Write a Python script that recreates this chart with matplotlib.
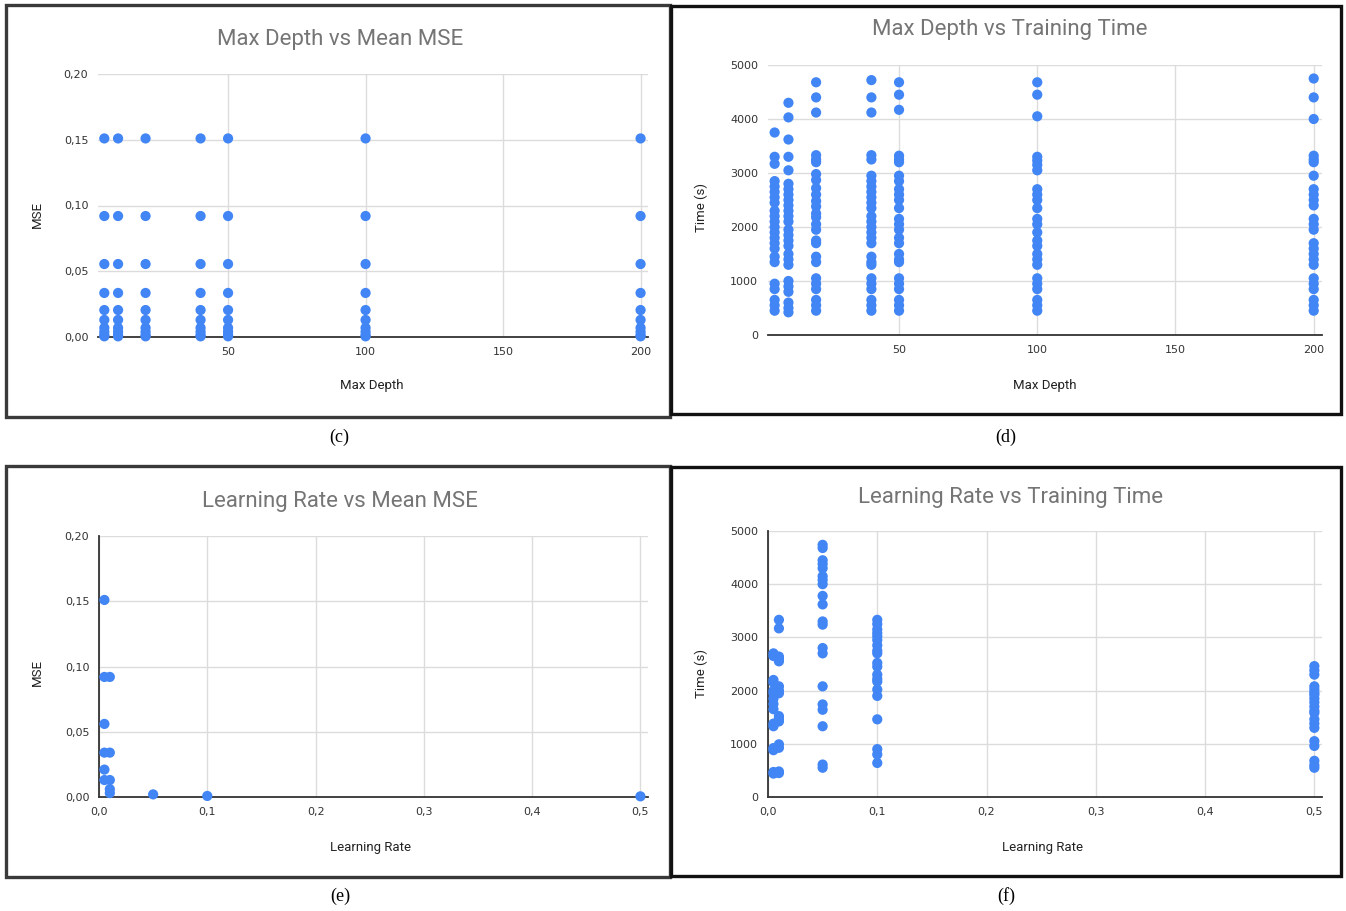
import matplotlib
matplotlib.use("Agg")
import matplotlib.pyplot as plt
from matplotlib.patches import Rectangle
from matplotlib.ticker import FuncFormatter

W, H = 1346, 911
BLUE = '#4285F4'
GRID = '#dcdcdc'

# ---- data ----
depths = [5, 10, 20, 40, 50, 100, 200]
mse_levels = [0.151, 0.092, 0.0555, 0.0335, 0.0205, 0.013, 0.007, 0.004, 0.0015, 0.0005]

time_d5 = [3750, 3300, 3170, 2850, 2750, 2650, 2550, 2450, 2300, 2200, 2100, 2000,
           1900, 1800, 1700, 1600, 1450, 1350, 950, 850, 650, 550, 450]
time_d10 = [4300, 4030, 3620, 3300, 3050, 2800, 2700, 2600, 2500, 2400, 2300, 2200,
            2100, 1950, 1850, 1750, 1650, 1500, 1400, 1300, 1000, 900, 800, 600, 500, 420]
time_d20 = [4680, 4400, 4120, 3330, 3250, 3200, 2980, 2870, 2720, 2600, 2480, 2380,
            2250, 2180, 2050, 1950, 1750, 1700, 1450, 1350, 1050, 950, 850, 650, 550, 450]
time_d40 = [4720, 4400, 4120, 3330, 3250, 2950, 2850, 2750, 2650, 2550, 2450, 2350,
            2200, 2100, 2000, 1900, 1800, 1700, 1450, 1350, 1300, 1050, 950, 850, 650, 550, 450]
time_d50 = [4680, 4450, 4170, 3320, 3250, 3200, 2950, 2850, 2700, 2600, 2500, 2350,
            2150, 2050, 1950, 1800, 1700, 1500, 1400, 1350, 1050, 950, 850, 650, 550, 450]
time_d100 = [4680, 4450, 4050, 3300, 3230, 3150, 3050, 2700, 2600, 2500, 2350, 2150,
             2050, 1900, 1750, 1650, 1500, 1400, 1300, 1050, 950, 850, 650, 550, 450]
time_d200 = [4750, 4400, 4000, 3320, 3250, 3200, 2950, 2700, 2600, 2500, 2400, 2150,
             2050, 1950, 1700, 1600, 1500, 1400, 1300, 1050, 950, 850, 650, 550, 450]
depth_times = [time_d5, time_d10, time_d20, time_d40, time_d50, time_d100, time_d200]

lr_mse_x = [0.005, 0.005, 0.01, 0.005, 0.005, 0.01, 0.005, 0.005, 0.01, 0.01, 0.01, 0.05, 0.1, 0.5]
lr_mse_y = [0.151, 0.092, 0.092, 0.056, 0.034, 0.034, 0.021, 0.013, 0.013, 0.006, 0.003, 0.002, 0.0008, 0.0005]

rates = [0.005, 0.01, 0.05, 0.1, 0.5]
time_lr0005 = [2700, 2650, 2200, 2150, 2000, 1950, 1850, 1750, 1650, 1380, 1330, 920, 880, 470, 440]
time_lr001 = [3330, 3170, 2640, 2600, 2550, 2080, 2000, 1950, 1520, 1470, 1420, 990, 925, 480, 450]
time_lr005 = [4740, 4680, 4450, 4380, 4300, 4150, 4080, 4000, 3780, 3620, 3300, 3240,
              2800, 2700, 2080, 1740, 1640, 1330, 610, 550]
time_lr01 = [3330, 3250, 3150, 3080, 3020, 2950, 2850, 2750, 2700, 2520, 2450, 2300,
             2220, 2170, 2020, 1900, 1460, 900, 800, 640]
time_lr05 = [2460, 2380, 2300, 2080, 2020, 1960, 1920, 1850, 1780, 1700, 1620, 1580,
             1460, 1380, 1300, 1050, 960, 680, 600, 550]
rate_times = [time_lr0005, time_lr001, time_lr005, time_lr01, time_lr05]


def fx(px):
    return px / W


def fy(py):
    return 1 - py / H


def comma(fmt):
    return FuncFormatter(lambda v, p: (fmt % v).replace('.', ','))


def make_axes(fig, left, right, top, bottom):
    ax = fig.add_axes([fx(left), fy(bottom), fx(right) - fx(left), fy(top) - fy(bottom)])
    for s in ['top', 'right', 'left']:
        ax.spines[s].set_visible(False)
    ax.spines['bottom'].set_color('#333333')
    ax.spines['bottom'].set_linewidth(1.3)
    ax.grid(True, color=GRID, linewidth=1.0)
    ax.set_axisbelow(True)
    ax.tick_params(length=0, labelsize=8, labelcolor='#333333', pad=7)
    return ax


def scatter(ax, x, y):
    ax.scatter(x, y, s=54, color=BLUE, edgecolors='none', zorder=3, clip_on=False)


def panel_text(fig, title, tpos, xlabel, xpos, ylabel, ypos, cap, cpos):
    fig.text(fx(tpos[0]), fy(tpos[1]), title, ha='center', va='center',
             fontsize=16, color='#757575', family='Roboto')
    fig.text(fx(xpos[0]), fy(xpos[1]), xlabel, ha='center', va='center',
             fontsize=9.5, color='#222222', family='Roboto')
    fig.text(fx(ypos[0]), fy(ypos[1]), ylabel, ha='center', va='center',
             fontsize=9.5, color='#222222', family='Roboto', rotation=90)
    fig.text(fx(cpos[0]), fy(cpos[1]), cap, ha='center', va='center',
             fontsize=13, color='black', family='Liberation Serif')


def border(fig, x0, y0, x1, y1, color):
    fig.patches.append(Rectangle((fx(x0), fy(y1)), fx(x1) - fx(x0), fy(y0) - fy(y1),
                                 transform=fig.transFigure, fill=False,
                                 edgecolor=color, linewidth=2.4, zorder=10))


fig = plt.figure(figsize=(W / 100, H / 100), dpi=100)
fig.patch.set_facecolor('white')

border(fig, 6, 5, 670, 417, '#3a3a3a')
border(fig, 671, 6, 1341, 414, '#111111')
border(fig, 6, 466, 670, 877, '#3a3a3a')
border(fig, 671, 467, 1341, 876, '#111111')

# (c) Max Depth vs Mean MSE
ax = make_axes(fig, 98, 648, 74, 337)
for d in depths:
    scatter(ax, [d] * len(mse_levels), mse_levels)
ax.set_xlim(2.7, 202.7)
ax.set_ylim(0, 0.2)
ax.set_xticks([50, 100, 150, 200])
ax.set_yticks([0, 0.05, 0.10, 0.15, 0.20])
ax.yaxis.set_major_formatter(comma('%.2f'))
panel_text(fig, 'Max Depth vs Mean MSE', (340, 40), 'Max Depth', (372, 386),
           'MSE', (37, 215), '(c)', (339, 437))

# (d) Max Depth vs Training Time
ax = make_axes(fig, 768, 1322, 65, 335)
for d, t in zip(depths, depth_times):
    scatter(ax, [d] * len(t), t)
ax.set_xlim(2.6, 203)
ax.set_ylim(0, 5000)
ax.set_xticks([50, 100, 150, 200])
ax.set_yticks([0, 1000, 2000, 3000, 4000, 5000])
panel_text(fig, 'Max Depth vs Training Time', (1010, 30), 'Max Depth', (1045, 385),
           'Time (s)', (701, 208), '(d)', (1006, 437))

# (e) Learning Rate vs Mean MSE
ax = make_axes(fig, 99, 648, 536, 797)
ax.spines['left'].set_visible(True)
ax.spines['left'].set_color('#333333')
ax.spines['left'].set_linewidth(1.3)
scatter(ax, lr_mse_x, lr_mse_y)
ax.set_xlim(0, 0.507)
ax.set_ylim(0, 0.2)
ax.set_xticks([0, 0.1, 0.2, 0.3, 0.4, 0.5])
ax.set_yticks([0, 0.05, 0.10, 0.15, 0.20])
ax.xaxis.set_major_formatter(comma('%.1f'))
ax.yaxis.set_major_formatter(comma('%.2f'))
panel_text(fig, 'Learning Rate vs Mean MSE', (340, 501), 'Learning Rate', (371, 847),
           'MSE', (37, 673), '(e)', (340, 896))

# (f) Learning Rate vs Training Time
ax = make_axes(fig, 768, 1322, 531, 797)
ax.spines['left'].set_visible(True)
ax.spines['left'].set_color('#333333')
ax.spines['left'].set_linewidth(1.3)
for r, t in zip(rates, rate_times):
    scatter(ax, [r] * len(t), t)
ax.set_xlim(0, 0.507)
ax.set_ylim(0, 5000)
ax.set_xticks([0, 0.1, 0.2, 0.3, 0.4, 0.5])
ax.set_yticks([0, 1000, 2000, 3000, 4000, 5000])
ax.xaxis.set_major_formatter(comma('%.1f'))
panel_text(fig, 'Learning Rate vs Training Time', (1011, 497), 'Learning Rate', (1043, 848),
           'Time (s)', (701, 673), '(f)', (1006, 896))

fig.savefig('out.png', dpi=100)
